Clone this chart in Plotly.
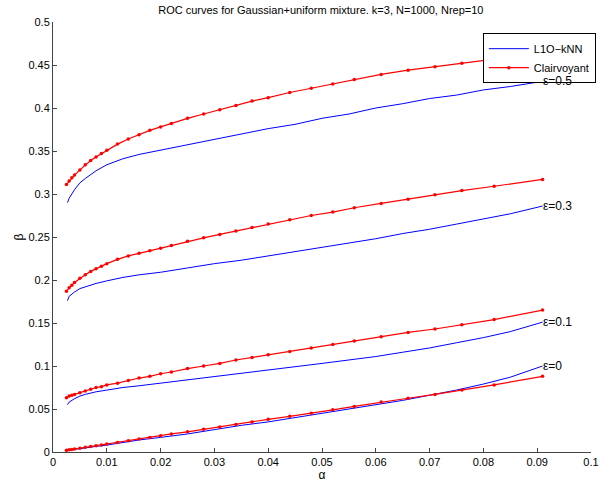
import plotly.graph_objects as go

# Clairvoyant curves (red, with markers)
alpha_c = [0.0025, 0.003, 0.0035, 0.004, 0.005, 0.006, 0.007, 0.008, 0.009, 0.010,
           0.012, 0.014, 0.016, 0.018, 0.020, 0.022, 0.025, 0.028, 0.031, 0.034,
           0.037, 0.040, 0.044, 0.048, 0.052, 0.056, 0.061, 0.066, 0.071, 0.076,
           0.082, 0.091]
beta_c_05 = [0.311, 0.315, 0.319, 0.322, 0.328, 0.334, 0.339, 0.343, 0.347, 0.351,
             0.358, 0.364, 0.369, 0.374, 0.378, 0.382, 0.388, 0.393, 0.398, 0.403,
             0.408, 0.412, 0.418, 0.423, 0.428, 0.433, 0.439, 0.444, 0.448, 0.452,
             0.457, 0.464]
beta_c_03 = [0.187, 0.191, 0.194, 0.197, 0.202, 0.206, 0.210, 0.213, 0.216, 0.219,
             0.224, 0.228, 0.231, 0.234, 0.237, 0.240, 0.245, 0.249, 0.253, 0.257,
             0.261, 0.265, 0.270, 0.275, 0.279, 0.284, 0.289, 0.294, 0.299, 0.304,
             0.309, 0.317]
beta_c_01 = [0.063, 0.065, 0.066, 0.067, 0.069, 0.071, 0.073, 0.075, 0.076, 0.078,
             0.080, 0.083, 0.086, 0.088, 0.091, 0.093, 0.097, 0.100, 0.103, 0.107,
             0.110, 0.113, 0.117, 0.121, 0.125, 0.129, 0.134, 0.139, 0.143, 0.148,
             0.154, 0.165]
beta_c_00 = [0.002, 0.0025, 0.003, 0.0035, 0.0045, 0.0055, 0.0065, 0.0073, 0.0082, 0.0092,
             0.011, 0.013, 0.015, 0.017, 0.019, 0.021, 0.0235, 0.0265, 0.029, 0.032,
             0.035, 0.038, 0.0415, 0.045, 0.049, 0.053, 0.058, 0.0625, 0.067, 0.072,
             0.078, 0.088]

# L1O-kNN curves (blue)
alpha_k = [0.0027, 0.003, 0.004, 0.005, 0.006, 0.008, 0.010, 0.013, 0.016, 0.020,
           0.025, 0.030, 0.035, 0.040, 0.045, 0.050, 0.055, 0.060, 0.065, 0.070,
           0.075, 0.080, 0.085, 0.091]
beta_k_05 = [0.290, 0.295, 0.305, 0.313, 0.318, 0.327, 0.334, 0.341, 0.346, 0.351,
             0.357, 0.363, 0.369, 0.376, 0.381, 0.388, 0.393, 0.400, 0.405, 0.411,
             0.415, 0.421, 0.425, 0.431]
beta_k_03 = [0.176, 0.181, 0.186, 0.190, 0.192, 0.196, 0.199, 0.203, 0.206, 0.209,
             0.214, 0.219, 0.223, 0.228, 0.233, 0.238, 0.243, 0.248, 0.254, 0.259,
             0.265, 0.271, 0.277, 0.286]
beta_k_01 = [0.055, 0.058, 0.062, 0.065, 0.067, 0.070, 0.072, 0.075, 0.077, 0.080,
             0.084, 0.088, 0.091, 0.095, 0.099, 0.103, 0.107, 0.111, 0.116, 0.121,
             0.127, 0.133, 0.140, 0.151]
beta_k_00 = [0.002, 0.0025, 0.003, 0.004, 0.005, 0.0065, 0.008, 0.011, 0.014, 0.017,
             0.021, 0.026, 0.031, 0.035, 0.040, 0.045, 0.050, 0.055, 0.060, 0.066,
             0.072, 0.079, 0.087, 0.100]

eps_labels = ["ε=0.5", "ε=0.3", "ε=0.1", "ε=0"]
x_ticks = [0, 0.01, 0.02, 0.03, 0.04, 0.05, 0.06, 0.07, 0.08, 0.09, 0.1]
x_ticktext = ["0", "0.01", "0.02", "0.03", "0.04", "0.05", "0.06", "0.07", "0.08", "0.09", "0.1"]
y_ticks = [0, 0.05, 0.1, 0.15, 0.2, 0.25, 0.3, 0.35, 0.4, 0.45, 0.5]
y_ticktext = ["0", "0.05", "0.1", "0.15", "0.2", "0.25", "0.3", "0.35", "0.4", "0.45", "0.5"]

FONT = "Liberation Sans, Arial, Helvetica, sans-serif"

fig = go.Figure()
knn = [beta_k_05, beta_k_03, beta_k_01, beta_k_00]
cla = [beta_c_05, beta_c_03, beta_c_01, beta_c_00]
for i, b in enumerate(knn):
    fig.add_trace(go.Scatter(x=alpha_k, y=b, mode="lines", name="L1O−kNN",
                             line=dict(color="#0000ff", width=1),
                             showlegend=(i == 0), legendgroup="knn"))
for i, b in enumerate(cla):
    fig.add_trace(go.Scatter(x=alpha_c, y=b, mode="lines+markers", name="Clairvoyant",
                             line=dict(color="#ff0000", width=1.2),
                             marker=dict(color="#ff0000", size=3.5),
                             showlegend=(i == 0), legendgroup="cla"))

for lab, b in zip(eps_labels, knn):
    fig.add_annotation(x=alpha_k[-1], y=b[-1], text=lab, showarrow=False,
                       xanchor="left", yanchor="middle", xshift=-2,
                       font=dict(family=FONT, size=12, color="#000"))

axis_common = dict(showgrid=False, zeroline=False, showline=True, linecolor="#444",
                   linewidth=1, ticks="inside", ticklen=4, tickcolor="#444",
                   automargin=False,
                   tickfont=dict(family=FONT, size=11, color="#000"), mirror=False)

fig.update_layout(
    width=602, height=483,
    margin=dict(l=53, r=11, t=22, b=31, autoexpand=False),
    paper_bgcolor="white", plot_bgcolor="white",
    title=dict(text="ROC curves for Gaussian+uniform mixture. k=3, N=1000, Nrep=10",
               x=0.533, xanchor="center", y=0.978, yanchor="middle",
               font=dict(family=FONT, size=11, color="#000")),
    xaxis=dict(range=[0, 0.1], tickvals=x_ticks, ticktext=x_ticktext,
               title=dict(text="α", font=dict(family=FONT, size=12, color="#000"), standoff=0),
               **axis_common),
    yaxis=dict(range=[0, 0.5], tickvals=y_ticks, ticktext=y_ticktext,
               title=dict(text="β", font=dict(family=FONT, size=12, color="#000"), standoff=2),
               **axis_common),
    legend=dict(x=1.009, xanchor="right", y=0.974, yanchor="top",
                bgcolor="white", bordercolor="#000", borderwidth=1,
                font=dict(family=FONT, size=11, color="#000"),
                tracegroupgap=0, itemwidth=40),
    showlegend=True,
)

fig.write_html("out.html")
